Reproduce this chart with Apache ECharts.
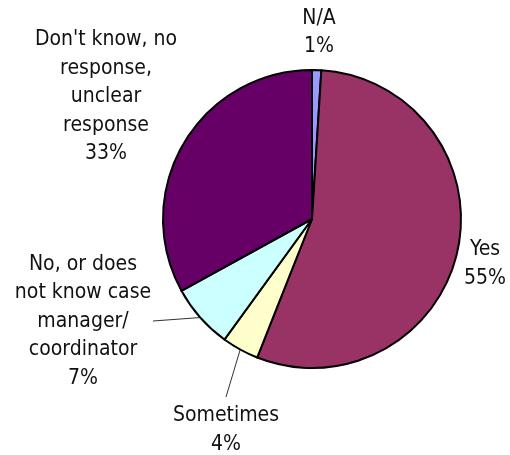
<!DOCTYPE html>
<html>
<head>
<meta charset="utf-8">
<script src="https://cdn.jsdelivr.net/npm/echarts@6/dist/echarts.min.js"></script>
<style>
  html, body { margin: 0; padding: 0; background: #fff; }
  #chart { width: 510px; height: 455px; }
</style>
</head>
<body>
<div id="chart"></div>
<script>
// Survey answers, in drawing order clockwise from 12 o'clock
const categories = [
  "N/A",
  "Yes",
  "Sometimes",
  "No, or does\nnot know case\nmanager/\ncoordinator",
  "Don't know, no\nresponse,\nunclear\nresponse"
];
const shares = [1, 55, 4, 7, 33];
const sliceColors = ["#9999FF", "#993366", "#FFFFCC", "#CCFFFF", "#660066"];

// Label anchors (centre of each text block) and which labels get a leader line
const labelSpots = [
  [319, 32.5],
  [485, 264],
  [226, 430],
  [83, 321.5],
  [106, 97]
];
const leaderEnds = [null, null, [226, 397], [153, 321], null];

const chart = echarts.init(document.getElementById('chart'), null, { renderer: 'canvas' });

chart.setOption({
  animation: false,
  backgroundColor: '#ffffff',
  series: [{
    type: 'pie',
    center: [312, 219],
    radius: 149,
    startAngle: 90,
    clockwise: true,
    avoidLabelOverlap: false,
    data: categories.map((name, i) => ({
      name: name,
      value: shares[i],
      itemStyle: { color: sliceColors[i] },
      labelLine: { show: leaderEnds[i] !== null }
    })),
    itemStyle: { borderColor: '#000', borderWidth: 2 },
    emphasis: { disabled: true },
    label: {
      show: true,
      position: 'outside',
      formatter: p => p.name + '\n' + p.value + '%',
      fontFamily: '"DejaVu Sans Condensed", "DejaVu Sans", sans-serif',
      fontSize: 21,
      lineHeight: 28.5,
      color: '#111',
      align: 'center'
    },
    labelLine: {
      length: 20,
      length2: 10,
      lineStyle: { color: '#333', width: 1 }
    },
    labelLayout: function (params) {
      const i = params.dataIndex;
      const spot = labelSpots[i];
      const out = {
        x: spot[0],
        y: spot[1],
        align: 'center',
        verticalAlign: 'middle'
      };
      if (leaderEnds[i] && params.labelLinePoints) {
        out.labelLinePoints = [params.labelLinePoints[0], leaderEnds[i]];
      }
      return out;
    }
  }]
});
</script>
</body>
</html>
